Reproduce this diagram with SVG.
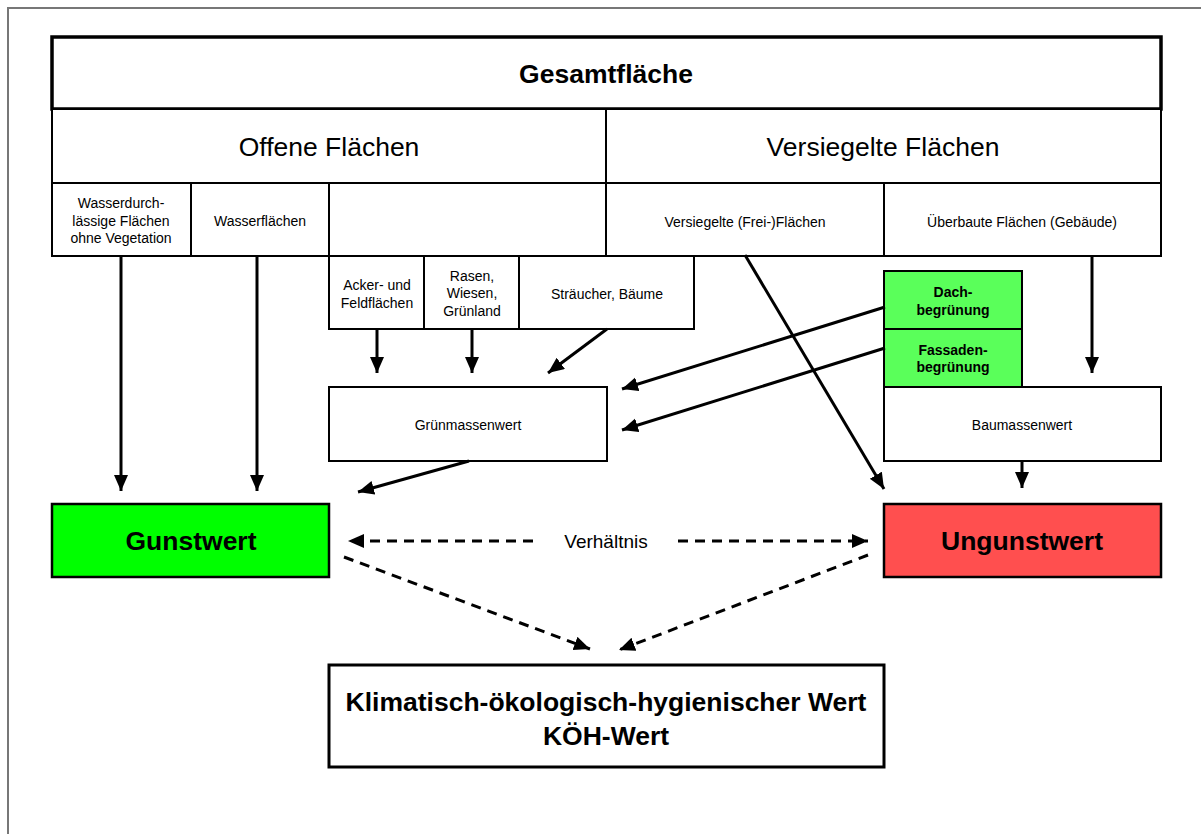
<svg xmlns="http://www.w3.org/2000/svg" width="1201" height="834" viewBox="0 0 1201 834">
<style>
text{font-family:"Liberation Sans",Arial,sans-serif;fill:#000;text-anchor:middle}
.box{fill:#fff;stroke:#000;stroke-width:2}
.big{font-size:26.5px}
.bold{font-weight:bold}
.sm{font-size:14px}
.mid{font-size:19px}
.con{stroke:#000;stroke-width:3;fill:none}
.dash{stroke-dasharray:10 7}
</style>
<defs>
<marker id="ah" markerUnits="userSpaceOnUse" markerWidth="18" markerHeight="16" refX="16" refY="7" orient="auto" viewBox="0 0 18 16">
<path d="M0,0 L16,7 L0,14 z" fill="#000"/>
</marker>
</defs>
<rect width="1201" height="834" fill="#fff"/>
<path d="M8,834 V8 H1201" fill="none" stroke="#777" stroke-width="2"/>

<g id="gesamtflaeche">
<rect x="52" y="37" width="1109" height="72" fill="#fff" stroke="#000" stroke-width="3.5"/>
<text class="big bold" x="606" y="83">Gesamtfläche</text>
</g>
<g id="offene">
<rect class="box" x="52" y="109" width="554" height="74"/>
<text class="big" x="329" y="156">Offene Flächen</text>
</g>
<g id="versiegelte">
<rect class="box" x="606" y="109" width="555" height="74"/>
<text class="big" x="883" y="156">Versiegelte Flächen</text>
</g>
<g id="wasserdurchlaessig">
<rect class="box" x="52" y="183" width="139" height="73"/>
<text class="sm" x="121" y="208">Wasserdurch-</text>
<text class="sm" x="121" y="226">lässige Flächen</text>
<text class="sm" x="121" y="243">ohne Vegetation</text>
</g>
<g id="wasserflaechen">
<rect class="box" x="191" y="183" width="138" height="73"/>
<text class="sm" x="260" y="226">Wasserflächen</text>
</g>
<g id="vegetation">
<rect class="box" x="329" y="183" width="277" height="73"/>
</g>
<g id="versiegelt-frei">
<rect class="box" x="606" y="183" width="278" height="73"/>
<text class="sm" x="745" y="227">Versiegelte (Frei-)Flächen</text>
</g>
<g id="ueberbaut">
<rect class="box" x="884" y="183" width="277" height="73"/>
<text class="sm" x="1022" y="227">Überbaute Flächen (Gebäude)</text>
</g>
<g id="acker">
<rect class="box" x="329" y="256" width="95" height="73"/>
<text class="sm" x="377" y="290">Acker- und</text>
<text class="sm" x="377" y="308">Feldflächen</text>
</g>
<g id="rasen">
<rect class="box" x="424" y="256" width="95" height="73"/>
<text class="sm" x="472" y="281">Rasen,</text>
<text class="sm" x="472" y="298">Wiesen,</text>
<text class="sm" x="472" y="316">Grünland</text>
</g>
<g id="straeucher">
<rect class="box" x="519" y="256" width="175" height="73"/>
<text class="sm" x="607" y="299">Sträucher, Bäume</text>
</g>
<g id="dachbegruenung">
<rect x="884" y="271" width="138" height="58" fill="#5aff5a" stroke="#000" stroke-width="2"/>
<text class="sm bold" x="953" y="297">Dach-</text>
<text class="sm bold" x="953" y="315">begrünung</text>
</g>
<g id="fassadenbegruenung">
<rect x="884" y="329" width="138" height="58" fill="#5aff5a" stroke="#000" stroke-width="2"/>
<text class="sm bold" x="953" y="355">Fassaden-</text>
<text class="sm bold" x="953" y="372">begrünung</text>
</g>
<g id="gruenmassenwert">
<rect class="box" x="329" y="387" width="278" height="74"/>
<text class="sm" x="468" y="430">Grünmassenwert</text>
</g>
<g id="baumassenwert">
<rect class="box" x="884" y="387" width="277" height="74"/>
<text class="sm" x="1022" y="430">Baumassenwert</text>
</g>
<g id="gunstwert">
<rect x="52" y="504" width="277" height="73" fill="#00ff00" stroke="#000" stroke-width="2.5"/>
<text class="big bold" x="191" y="550">Gunstwert</text>
</g>
<g id="ungunstwert">
<rect x="884" y="504" width="277" height="73" fill="#ff4f4f" stroke="#000" stroke-width="2.5"/>
<text class="big bold" x="1022" y="550">Ungunstwert</text>
</g>
<g id="koeh">
<rect x="329" y="665" width="555" height="102" fill="#fff" stroke="#000" stroke-width="3"/>
<text class="big bold" x="606" y="711">Klimatisch-ökologisch-hygienischer Wert</text>
<text class="big bold" x="606" y="745">KÖH-Wert</text>
</g>
<g id="verhaeltnis-label">
<text class="mid" x="606" y="548">Verhältnis</text>
</g>

<g id="connectors">
<line class="con" x1="121" y1="256" x2="121" y2="491" marker-end="url(#ah)"/>
<line class="con" x1="257" y1="256" x2="257" y2="491" marker-end="url(#ah)"/>
<line class="con" x1="377" y1="329" x2="377" y2="373" marker-end="url(#ah)"/>
<line class="con" x1="472" y1="329" x2="472" y2="373" marker-end="url(#ah)"/>
<line class="con" x1="607" y1="329" x2="548" y2="373" marker-end="url(#ah)"/>
<line class="con" x1="885" y1="307" x2="622" y2="389" marker-end="url(#ah)"/>
<line class="con" x1="885" y1="348" x2="622" y2="430" marker-end="url(#ah)"/>
<line class="con" x1="1092" y1="256" x2="1092" y2="373" marker-end="url(#ah)"/>
<line class="con" x1="745" y1="255" x2="884" y2="489" marker-end="url(#ah)"/>
<line class="con" x1="1022" y1="461" x2="1022" y2="488" marker-end="url(#ah)"/>
<line class="con" x1="469" y1="461" x2="358" y2="492" marker-end="url(#ah)"/>
<line class="con dash" x1="533" y1="541" x2="348" y2="541" marker-end="url(#ah)"/>
<line class="con dash" x1="678" y1="541" x2="868" y2="541" marker-end="url(#ah)"/>
<line class="con dash" x1="344" y1="557" x2="590" y2="649" marker-end="url(#ah)"/>
<line class="con dash" x1="868" y1="555" x2="619" y2="650" marker-end="url(#ah)"/>
</g>
</svg>
